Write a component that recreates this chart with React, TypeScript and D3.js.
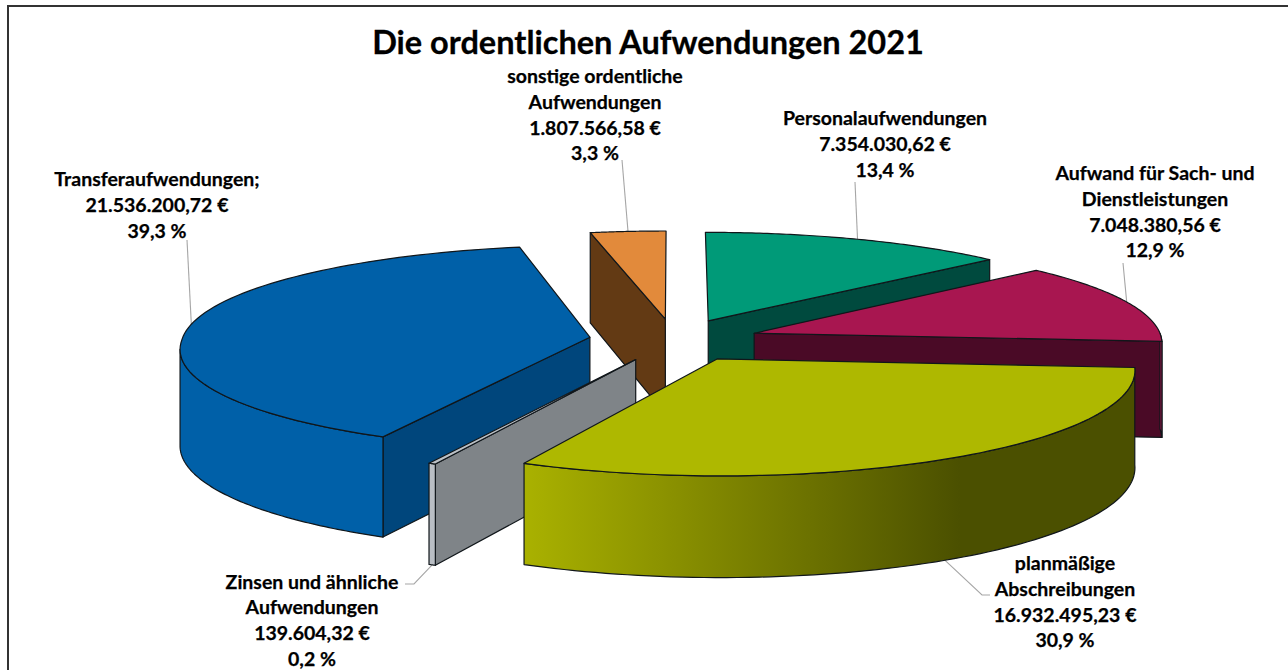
import React from "react";
import * as d3 from "d3";

// chart data, clockwise starting at 12 o'clock
const categories = [
  "Personalaufwendungen",
  "Aufwand für Sach- und Dienstleistungen",
  "planmäßige Abschreibungen",
  "Zinsen und ähnliche Aufwendungen",
  "Transferaufwendungen",
  "sonstige ordentliche Aufwendungen",
];
const values = [7354030.62, 7048380.56, 16932495.23, 139604.32, 21536200.72, 1807566.58];
const valueLabels = [
  "7.354.030,62 €",
  "7.048.380,56 €",
  "16.932.495,23 €",
  "139.604,32 €",
  "21.536.200,72 €",
  "1.807.566,58 €",
];
const percentLabels = ["13,4 %", "12,9 %", "30,9 %", "0,2 %", "39,3 %", "3,3 %"];
const nameLines = [
  ["Personalaufwendungen"],
  ["Aufwand für Sach- und", "Dienstleistungen"],
  ["planmäßige", "Abschreibungen"],
  ["Zinsen und ähnliche", "Aufwendungen"],
  ["Transferaufwendungen;"],
  ["sonstige ordentliche", "Aufwendungen"],
];

// styling per slice
const topColors = ["#009a78", "#a81650", "#aeb800", "#bcc1c6", "#0060a8", "#e28a3b"];
const wallColors = ["#004a3e", "#4a0a26", "#4c5000", "#7f8488", "#00467c", "#633a14"];
const sideColors = ["#009a78", "#a81650", "url(#oliveSide)", "#b9bec4", "#0060a8", "#e28a3b"];

// label placement: centre x, first baseline, leader end points
const labelPos = [
  { x: 885, y: 125, leader: [[855, 182]] },
  { x: 1155, y: 180, leader: [[1123, 263]] },
  { x: 1065, y: 570, leader: [[990, 595], [982, 595]], bottom: true },
  { x: 312, y: 588.5, leader: [[405, 584], [414, 584]], bottom: true },
  { x: 157, y: 186, leader: [[187, 240]] },
  { x: 595, y: 83, leader: [[622, 160]] },
];

// back to front
const drawOrder = [5, 0, 1, 4, 3, 2];

// 3d pie setup
const cx = 674;
const cy = 340;
const radius = 408;
const explode = 85;
const tilt = 0.252;
const perspFront = 4040;
const perspBack = 5000;
const height = 96;

const project = (X: number, Z: number, drop = 0): [number, number] => {
  const sx = 1 - Z / (Z > 0 ? perspBack : perspFront);
  const sy = 1 - Z / perspFront;
  return [cx + X * sx, cy - Z * tilt * sy + drop * (1 + (sy - 1) * 0.5)];
};

const line = d3.line();

export default function App() {
  const pie = d3.pie<number>().sort(null).startAngle(0).endAngle(2 * Math.PI);
  const arcs = pie(values);

  const slices = arcs.map((d) => {
    const mid = (d.startAngle + d.endAngle) / 2;
    const ox = explode * Math.sin(mid);
    const oz = explode * Math.cos(mid);
    const rim = (a: number, drop = 0) =>
      project(ox + radius * Math.sin(a), oz + radius * Math.cos(a), drop);
    return { d, mid, ox, oz, rim };
  });

  const sample = (a0: number, a1: number) => d3.range(0, 81).map((i) => a0 + ((a1 - a0) * i) / 80);

  const renderSlice = (i: number) => {
    const { d, ox, oz, rim } = slices[i];
    const a0 = d.startAngle;
    const a1 = d.endAngle;
    const apex = project(ox, oz);
    const apexLow = project(ox, oz, height);
    const stroke = { stroke: "#10161a", strokeWidth: 1.2, strokeLinejoin: "round" as const };
    const parts: React.ReactNode[] = [];

    const wall = (a: number, key: string) => (
      <path
        key={key}
        d={line([apex, rim(a), rim(a, height), apexLow])! + "Z"}
        fill={wallColors[i]}
        {...stroke}
      />
    );
    // start wall faces the viewer in the left half, end wall in the right half
    if (Math.sin(a0) < -0.05) parts.push(wall(a0, "w0"));
    if (Math.sin(a1) > 0.05) parts.push(wall(a1, "w1"));

    // outer side, up to the silhouette of the rim (perspective shifts it off 270 deg)
    const leftEdge = d3.least(sample(Math.PI, 2 * Math.PI), (a) => rim(a)[0])!;
    const f0 = Math.max(a0, Math.PI / 2);
    const f1 = Math.min(a1, leftEdge);
    if (f1 > f0) {
      const angles = sample(f0, f1);
      const outline = [
        ...angles.map((a) => rim(a)),
        ...angles.slice().reverse().map((a) => rim(a, height)),
      ];
      parts.push(<path key="side" d={line(outline)! + "Z"} fill={sideColors[i]} {...stroke} />);
    }

    // top face
    const top = [apex, ...sample(a0, a1).map((a) => rim(a))];
    parts.push(<path key="top" d={line(top)! + "Z"} fill={topColors[i]} {...stroke} />);

    return <g key={categories[i]}>{parts}</g>;
  };

  const renderLabel = (i: number) => {
    const pos = labelPos[i];
    const { mid, rim } = slices[i];
    const anchor = rim(mid, pos.bottom ? height : 0);
    const rows = [...nameLines[i], valueLabels[i], percentLabels[i]];
    const leader = [...pos.leader, anchor] as [number, number][];
    return (
      <g key={`label-${i}`}>
        <path d={line(leader)!} fill="none" stroke="#a6a6a6" strokeWidth={1.1} />
        <text
          textAnchor="middle"
          fontFamily="Lato, sans-serif"
          fontWeight={700}
          fontSize={19.5}
          fill="#000"
          stroke="#000"
          strokeWidth={0.25}
        >
          {rows.map((r, k) => (
            <tspan key={k} x={pos.x} y={pos.y + k * 25.8}>
              {r}
            </tspan>
          ))}
        </text>
      </g>
    );
  };

  return (
    <svg
      width={1288}
      height={670}
      style={{ position: "absolute", left: 0, top: 0, background: "#fff" }}
    >
      <defs>
        <linearGradient id="oliveSide" gradientUnits="userSpaceOnUse" x1={522} x2={960} y1={0} y2={0}>
          <stop offset="0" stopColor="#aab200" />
          <stop offset="1" stopColor="#4b5000" />
        </linearGradient>
      </defs>
      {/* frame, runs off the picture at right and bottom */}
      <path d="M8,670V6H1288" fill="none" stroke="#333" strokeWidth={2} />
      <text
        x={648}
        y={54}
        textAnchor="middle"
        fontFamily="Lato, sans-serif"
        fontWeight={700}
        fontSize={32.5}
        fill="#000"
        stroke="#000"
        strokeWidth={0.3}
      >
        Die ordentlichen Aufwendungen 2021
      </text>
      {labelPos.map((_, i) => renderLabel(i))}
      {drawOrder.map((i) => renderSlice(i))}
    </svg>
  );
}
